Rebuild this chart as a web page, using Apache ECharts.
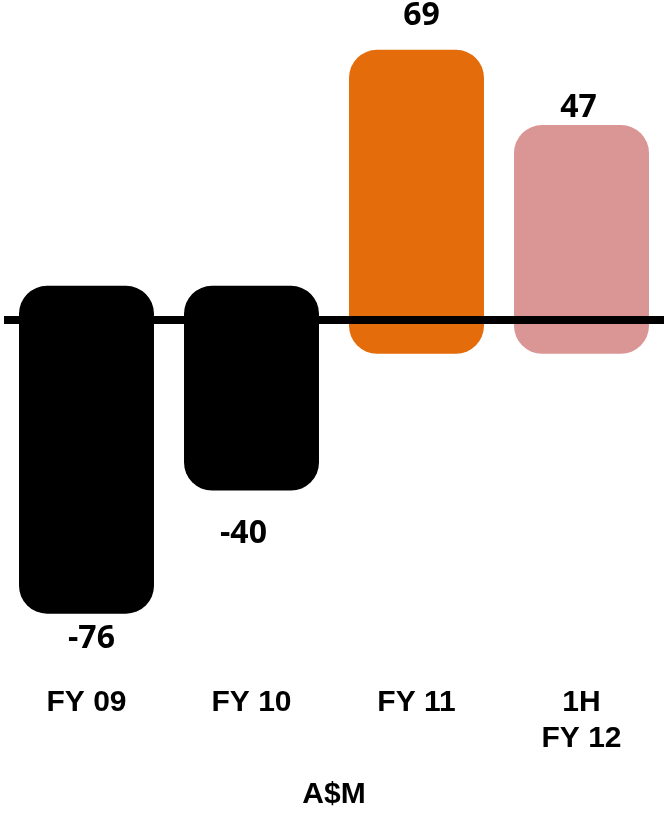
<!DOCTYPE html>
<html>
<head>
<meta charset="utf-8">
<style>
    html, body { margin: 0; padding: 0; background: #fff; }
    #chart { width: 664px; height: 815px; }
</style>
<script src="https://cdn.jsdelivr.net/npm/echarts@6/dist/echarts.min.js"></script>
</head>
<body>
<div id="chart"></div>
<script>
(function () {

    'use strict';

    // data (A$M)
    var categories = ['FY 09', 'FY 10', 'FY 11', '1H\nFY 12'];
    var values = [-76, -40, 69, 47];
    var barColors = ['#000000', '#000000', '#E46C0A', '#D99694'];

    // bars run a little past the zero line on both ends
    var PAD = 34;
    // small per-label nudges [dx, distance from bar end]
    var labelNudge = [[5, 25], [-8, 43], [5, 34], [-3, 17]];

    var chart = echarts.init(document.getElementById('chart'));

    var option = {
        animation: false,
        grid: {
            left: 4,
            right: 0,
            top: 0,
            height: 690
        },
        xAxis: {
            type: 'category',
            data: categories,
            axisLine: { show: false },
            axisTick: { show: false },
            axisLabel: {
                interval: 0,
                margin: 1,
                color: '#000',
                fontFamily: 'Liberation Sans',
                fontWeight: 'bold',
                fontSize: 30,
                lineHeight: 36
            },
            name: 'A$M',
            nameLocation: 'middle',
            nameGap: 96,
            nameTextStyle: {
                color: '#000',
                fontFamily: 'Liberation Sans',
                fontWeight: 'bold',
                fontSize: 30,
                lineHeight: 30
            }
        },
        yAxis: {
            type: 'value',
            min: -106.5,
            max: 93.5,
            show: false,
            splitLine: { show: false }
        },
        series: [{
            type: 'custom',
            data: values.map(function (v, i) { return [i, v]; }),
            renderItem: function (params, api) {
                var i = params.dataIndex;
                var v = api.value(1);
                var base = api.coord([i, 0]);
                var end = api.coord([i, v]);
                var w = api.size([1, 0])[0] * 0.818;
                var top = Math.min(base[1], end[1]) - PAD;
                var bottom = Math.max(base[1], end[1]) + PAD;
                var nudge = labelNudge[i];
                var ly = v >= 0 ? top - nudge[1] : bottom + nudge[1];
                return {
                    type: 'group',
                    children: [{
                        type: 'rect',
                        shape: { x: base[0] - w / 2, y: top, width: w, height: bottom - top, r: 28 },
                        style: { fill: barColors[i] }
                    }, {
                        type: 'text',
                        x: base[0] + nudge[0],
                        y: ly,
                        style: {
                            text: String(v),
                            font: 'bold 32px "Open Sans"',
                            fill: '#000',
                            align: 'center',
                            verticalAlign: 'middle'
                        }
                    }]
                };
            },
            markLine: {
                silent: true,
                symbol: 'none',
                label: { show: false },
                lineStyle: { color: '#000', width: 8, type: 'solid' },
                data: [{ yAxis: 0 }]
            }
        }]
    };

    chart.setOption(option);
}) ();
</script>
</body>
</html>
